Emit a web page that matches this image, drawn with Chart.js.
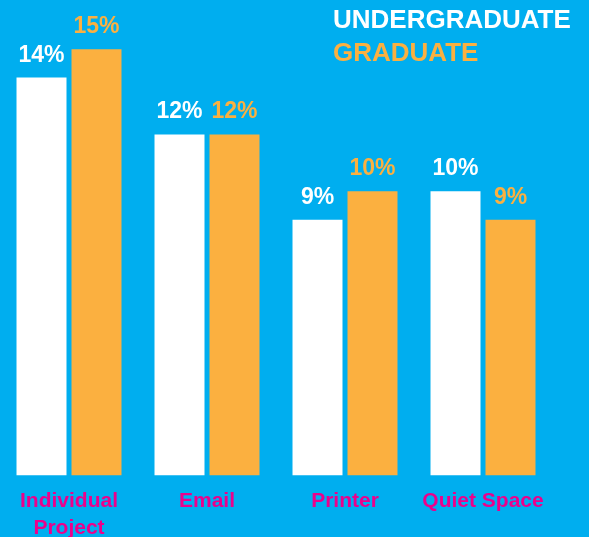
<!DOCTYPE html>
<html>
<head>
<meta charset="utf-8">
<title>Undergraduate vs Graduate</title>
<script src="https://cdn.jsdelivr.net/npm/chart.js@4/dist/chart.umd.min.js"></script>
<style>
    html, body { margin: 0; padding: 0; background: #00AEEF; }
    #barcanvas { display: block; }
</style>
</head>
<body>
<canvas id="barcanvas" width="589" height="537"></canvas>
<script>
// ข้อมูลของกราฟ
const categories = [["Individual", "Project"], "Email", "Printer", "Quiet Space"];
const seriesNames = ["UNDERGRADUATE", "GRADUATE"];
const undergradValues = [14, 12, 9, 10];
const gradValues = [15, 12, 10, 9];

const fontFamily = "'Liberation Sans', Arial, Helvetica, sans-serif";
const white = "#FFFFFF";
const orange = "#FBB040";
const magenta = "#EC008C";

// วาดตัวเลข % เหนือแท่ง
const valueLabels = {
    id: 'valueLabels',
    afterDatasetsDraw(chart) {
        let ctx = chart.ctx;
        ctx.save();
        ctx.font = "bold 23px " + fontFamily;
        ctx.textAlign = 'center';
        ctx.textBaseline = 'alphabetic';
        chart.data.datasets.forEach(function(ds, i) {
            let meta = chart.getDatasetMeta(i);
            ctx.fillStyle = ds.backgroundColor;
            meta.data.forEach(function(bar, j) {
                ctx.fillText(ds.data[j] + '%', bar.x, bar.y - 16);
            });
        });
        ctx.restore();
    }
};

// legend แบบตัวหนังสือ มุมขวาบน
const textLegend = {
    id: 'textLegend',
    afterDraw(chart) {
        let ctx = chart.ctx;
        ctx.save();
        ctx.font = "bold 26px " + fontFamily;
        ctx.textAlign = 'left';
        ctx.textBaseline = 'alphabetic';
        chart.data.datasets.forEach(function(ds, i) {
            ctx.fillStyle = ds.backgroundColor;
            ctx.fillText(ds.label, 333, 28 + i * 33);
        });
        ctx.restore();
    }
};

let barCanvas = document.getElementById('barcanvas').getContext('2d');
let barChart = new Chart(barCanvas, {
    type: 'bar',
    data: {
        labels: categories,
        datasets: [{
            label: seriesNames[0],
            data: undergradValues,
            backgroundColor: white
        }, {
            label: seriesNames[1],
            data: gradValues,
            backgroundColor: orange
        }]
    },
    options: {
        responsive: false,
        animation: false,
        datasets: {
            bar: {
                categoryPercentage: 0.797,
                barPercentage: 0.909
            }
        },
        layout: {
            padding: { left: 0, right: 37, top: 0, bottom: -17 }
        },
        plugins: {
            legend: { display: false },
            tooltip: { enabled: false }
        },
        scales: {
            x: {
                grid: { display: false, drawTicks: false },
                border: { display: false },
                ticks: {
                    color: magenta,
                    padding: 12,
                    maxRotation: 0,
                    autoSkip: false,
                    font: { family: fontFamily, size: 21, weight: 'bold', lineHeight: 1.3 }
                }
            },
            y: {
                display: false,
                min: 0,
                max: 16.73
            }
        }
    },
    plugins: [valueLabels, textLegend]
});
</script>
</body>
</html>
